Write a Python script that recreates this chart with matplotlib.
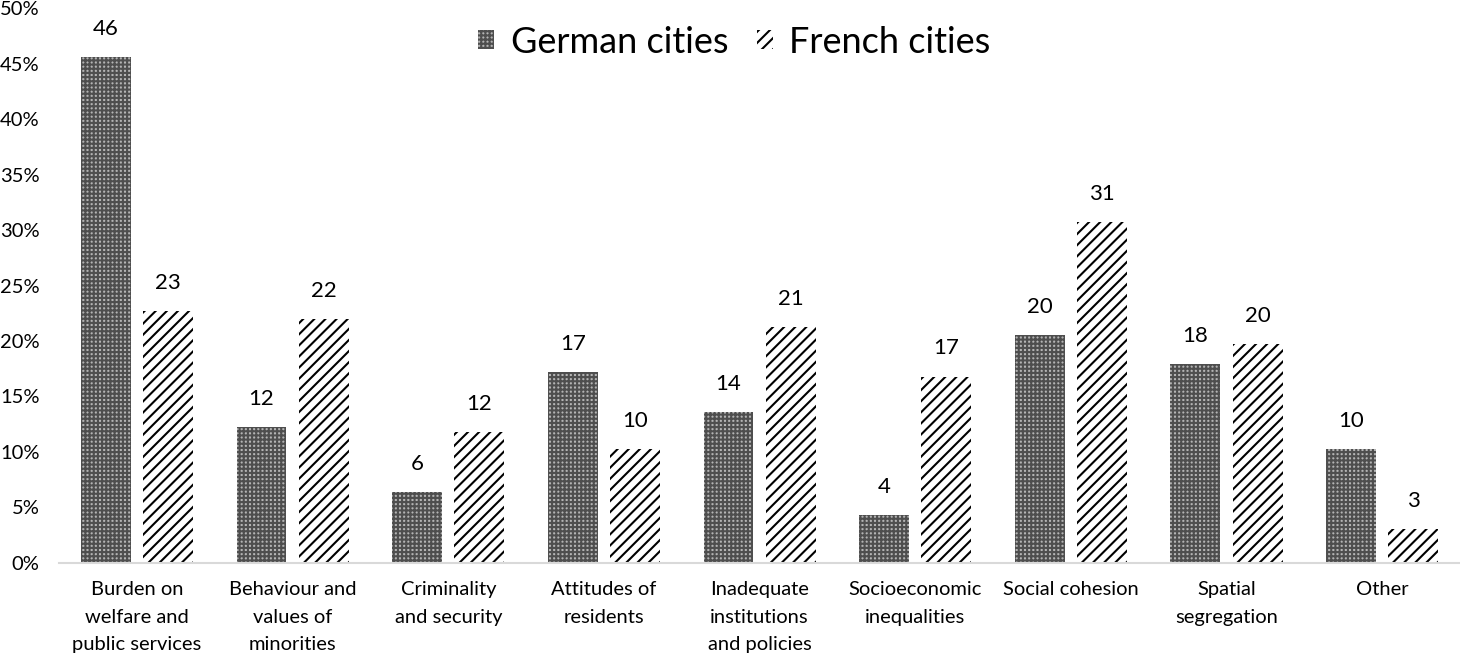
import numpy as np
import matplotlib.pyplot as plt
from matplotlib.ticker import PercentFormatter

plt.rcParams['font.family'] = ['Lato', 'DejaVu Sans']
plt.rcParams['hatch.linewidth'] = 1.5

categories = [
    "Burden on\nwelfare and\npublic services",
    "Behaviour and\nvalues of\nminorities",
    "Criminality\nand security",
    "Attitudes of\nresidents",
    "Inadequate\ninstitutions\nand policies",
    "Socioeconomic\ninequalities",
    "Social cohesion",
    "Spatial\nsegregation",
    "Other",
]
german = [45.6, 12.25, 6.4, 17.2, 13.6, 4.3, 20.5, 17.9, 10.3]
french = [22.7, 22.0, 11.8, 10.3, 21.3, 16.8, 30.7, 19.7, 3.1]

x = np.arange(len(categories))
w = 0.32
off = 0.2

fig = plt.figure(figsize=(14.6, 6.58), dpi=100)
ax = fig.add_axes([0.0405, 0.1444, 0.9595, 0.8434])

b1 = ax.bar(x - off, german, w, color='#b4b4b4', edgecolor='#4e4e4e',
            hatch='++++', linewidth=0, label='German cities')
b2 = ax.bar(x + off, french, w, color='white', edgecolor='black',
            hatch='///', linewidth=0, label='French cities')

# value labels, rounded like the original
for bars, vals in [(b1, german), (b2, french)]:
    for b, v in zip(bars, vals):
        ax.annotate(f"{round(v)}", (b.get_x() + b.get_width() / 2, v),
                    xytext=(0, 13), textcoords='offset points',
                    ha='center', va='bottom', fontsize=16)

ax.set_ylim(0, 50)
ax.set_xlim(-0.5, len(categories) - 0.5)
ax.yaxis.set_major_locator(plt.MultipleLocator(5))
ax.yaxis.set_major_formatter(PercentFormatter(decimals=0))
ax.set_xticks(x)
ax.set_xticklabels(categories, fontsize=14.5, linespacing=1.75)
ax.tick_params(axis='both', length=0, labelsize=14.5)
ax.tick_params(axis='x', pad=13)
ax.tick_params(axis='y', pad=14)

for s in ['top', 'right', 'left']:
    ax.spines[s].set_visible(False)
ax.spines['bottom'].set_color('#d9d9d9')
ax.spines['bottom'].set_linewidth(1.5)

ax.legend(loc='upper center', bbox_to_anchor=(0.482, 1.027), ncol=2,
          frameon=False, fontsize=26, handlelength=0.45, handleheight=0.45,
          handletextpad=0.45, columnspacing=0.8)

fig.savefig('out.png', dpi=100)
